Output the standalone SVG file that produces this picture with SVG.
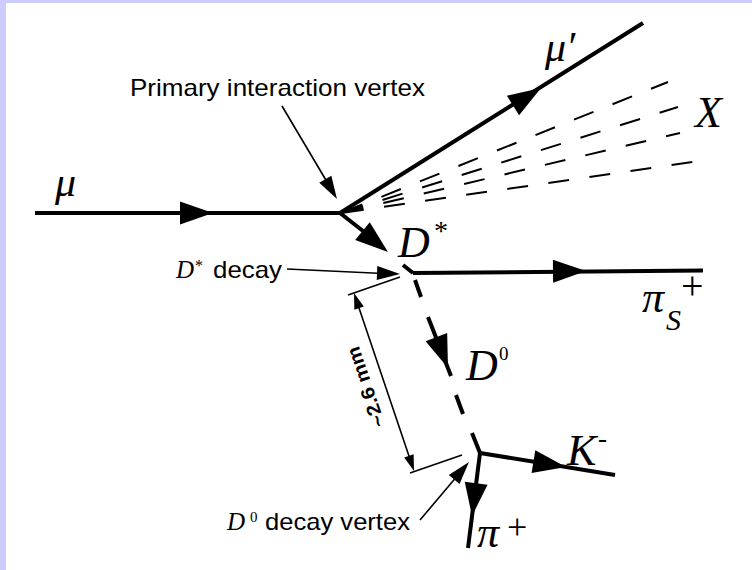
<svg xmlns="http://www.w3.org/2000/svg" xmlns:xlink="http://www.w3.org/1999/xlink" width="752" height="570" viewBox="0 0 752 570">
<style>
.trk{stroke:#000;stroke-width:4;fill:none}
.xd{stroke:#000;stroke-width:2;fill:none;stroke-dasharray:21 20.5;stroke-dashoffset:-2}
.ptr{stroke:#000;stroke-width:1.6;fill:none}
.math{font-family:"Liberation Serif","Times New Roman",serif;font-style:italic;fill:#000}
.rom{font-family:"Liberation Serif","Times New Roman",serif;fill:#000}
.lbl{font-family:"Liberation Sans",Arial,sans-serif;fill:#000}
</style>
<defs>
<path id="ah" d="M0,0 L-33,-11.5 L-33,11.5 Z" fill="#000"/>
<path id="ahs" d="M0,0 L-23,-7 L-23,7 Z" fill="#000"/>
<path id="ahd" d="M0,0 L-16,-5 L-16,5 Z" fill="#000"/>
</defs>
<rect x="0" y="0" width="752" height="570" fill="#ffffff"/>
<rect x="0" y="0" width="752" height="3" fill="#ccccff"/>
<rect x="0" y="0" width="6" height="570" fill="#ccccff"/>

<g id="connectors">
  <g id="mu-track">
    <line class="trk" x1="35" y1="213" x2="341" y2="213"/>
    <use href="#ah" transform="translate(213,213)"/>
  </g>
  <g id="muprime-track">
    <line class="trk" x1="340" y1="213" x2="643" y2="23"/>
    <use href="#ah" transform="translate(541,88) rotate(-32)"/>
  </g>
  <g id="x-tracks">
    <line class="xd" x1="341" y1="213" x2="668" y2="82"/>
    <line class="xd" x1="341" y1="213" x2="678" y2="107"/>
    <line class="xd" x1="341" y1="213" x2="680" y2="133"/>
    <line class="xd" x1="341" y1="213" x2="693" y2="162"/>
  </g>
  <g id="dstar-track">
    <line class="trk" x1="340" y1="213" x2="363" y2="231"/>
    <use href="#ah" transform="translate(388,252) rotate(39.3)"/>
    <line class="trk" x1="403" y1="265" x2="413" y2="273"/>
  </g>
  <g id="pis-track">
    <line class="trk" x1="413" y1="273" x2="703" y2="270.5"/>
    <use href="#ah" transform="translate(586,271) rotate(-0.5)"/>
  </g>
  <g id="d0-track">
    <line class="trk" x1="415" y1="280" x2="421" y2="297"/>
    <line class="trk" x1="428" y1="317" x2="451" y2="376"/>
    <use href="#ah" transform="translate(448,368) rotate(69.4)"/>
    <line class="trk" x1="456" y1="395" x2="463" y2="414"/>
    <line class="trk" x1="472" y1="433" x2="480" y2="453"/>
  </g>
  <g id="k-track">
    <line class="trk" x1="480" y1="453" x2="615" y2="475"/>
    <use href="#ah" transform="translate(566,467) rotate(9.3)"/>
  </g>
  <g id="piplus-track">
    <line class="trk" x1="480" y1="453" x2="468" y2="548"/>
    <use href="#ah" transform="translate(472,516) rotate(97.2)"/>
  </g>
  <g id="pointers">
    <line class="ptr" x1="282" y1="106" x2="333" y2="192"/>
    <use href="#ahs" transform="translate(337,199) rotate(59.4)"/>
    <line class="ptr" x1="287" y1="269" x2="394" y2="274"/>
    <use href="#ahs" transform="translate(400,274) rotate(2.5)"/>
    <line class="ptr" x1="420" y1="520" x2="464" y2="468"/>
    <use href="#ahs" transform="translate(469,462) rotate(-49.8)"/>
  </g>
  <g id="dimension">
    <line class="ptr" x1="348" y1="295" x2="400" y2="277"/>
    <line class="ptr" x1="410" y1="473" x2="462" y2="455"/>
    <line class="ptr" x1="357" y1="302" x2="411" y2="462"/>
    <use href="#ahd" transform="translate(354,293) rotate(-108.6)"/>
    <use href="#ahd" transform="translate(414,471) rotate(71.4)"/>
  </g>
</g>

<g id="label-primary">
  <text class="lbl" x="130" y="96" font-size="24" textLength="295" lengthAdjust="spacingAndGlyphs">Primary interaction vertex</text>
</g>
<g id="label-mu"><text class="math" x="55" y="196" font-size="42">μ</text></g>
<g id="label-muprime"><text class="math" x="545" y="61" font-size="42">μ′</text></g>
<g id="label-x"><text class="math" x="695" y="127" font-size="44">X</text></g>
<g id="label-dstar">
  <text class="math" x="398" y="257" font-size="44">D</text>
  <text class="rom" x="434" y="240" font-size="28">*</text>
</g>
<g id="label-dstar-decay">
  <text class="math" x="176" y="278" font-size="25">D</text>
  <text class="rom" x="195" y="271" font-size="16">*</text>
  <text class="lbl" x="213" y="278" font-size="24" textLength="69" lengthAdjust="spacingAndGlyphs">decay</text>
</g>
<g id="label-pis">
  <text class="math" x="642" y="312" font-size="44">π</text>
  <text class="math" x="666" y="330" font-size="30">S</text>
  <text class="rom" x="681" y="299" font-size="40">+</text>
</g>
<g id="label-d0">
  <text class="math" x="466" y="380" font-size="44">D</text>
  <text class="rom" x="499" y="360" font-size="19">0</text>
</g>
<g id="label-dim">
  <text class="lbl" font-weight="bold" font-size="19" text-anchor="middle" textLength="84" lengthAdjust="spacingAndGlyphs" transform="translate(372,385) rotate(-108.6)">~2.6 mm</text>
</g>
<g id="label-k">
  <text class="math" x="567" y="465" font-size="44">K</text>
  <text class="rom" x="598" y="447" font-size="27">-</text>
</g>
<g id="label-piplus">
  <text class="math" x="477" y="547" font-size="44">π</text>
  <text class="rom" x="507" y="539" font-size="36">+</text>
</g>
<g id="label-d0-decay">
  <text class="math" x="227" y="530" font-size="25">D</text>
  <text class="rom" x="250" y="522" font-size="15">0</text>
  <text class="lbl" x="265" y="530" font-size="24" textLength="145" lengthAdjust="spacingAndGlyphs">decay vertex</text>
</g>
</svg>
